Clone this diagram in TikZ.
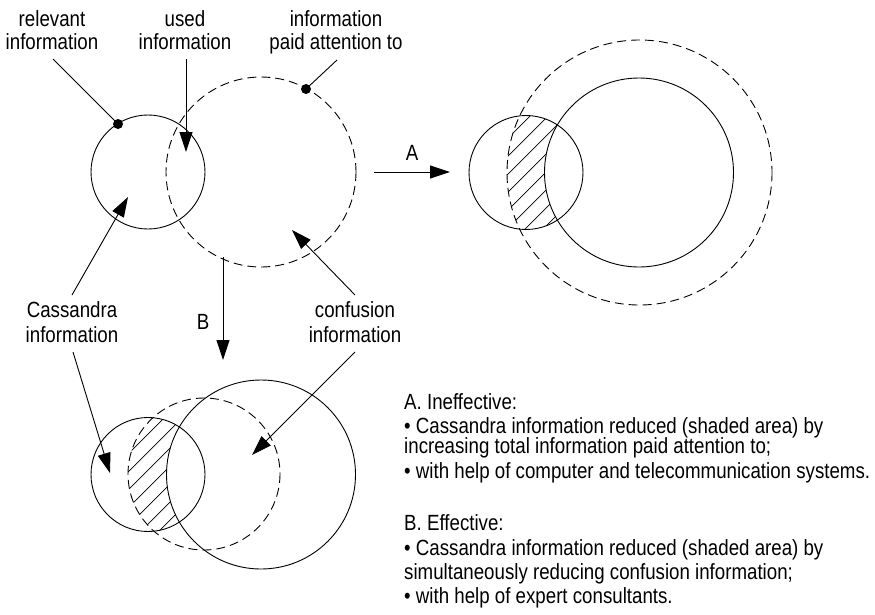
\documentclass[tikz,border=0pt]{standalone}
\usepackage{fontspec}
\setmainfont[FakeStretch=0.85]{Liberation Sans}
\usetikzlibrary{arrows.meta}
\begin{document}
\begin{tikzpicture}[x=1pt,y=-1pt,
  lbl/.style={anchor=base, inner sep=0pt, font=\fontsize{22}{24}\selectfont},
  txt/.style={anchor=base west, inner sep=0pt, font=\fontsize{22}{24}\selectfont},
  ring/.style={line width=0.9pt},
  dashring/.style={line width=0.9pt, dash pattern=on 9pt off 5pt},
  pointer/.style={line width=0.9pt, -{Triangle[length=20pt,width=13pt]}},
  leader/.style={line width=0.9pt},
  dot/.style={circle, fill, inner sep=0pt, minimum size=10pt},
  hatch/.style={line width=0.7pt}
]
\useasboundingbox (0,0) rectangle (875,614);

% ---------- circle centres ----------
\coordinate (S1) at (148,172);   % relevant information (start)
\coordinate (D1) at (261,172);   % information paid attention to (start)
\coordinate (S2) at (526,172.5); % relevant information (case A)
\coordinate (D2) at (639.5,172.5);
\coordinate (M2) at (639,172.5);
\coordinate (S3) at (148,474.5); % relevant information (case B)
\coordinate (D3) at (204,474);
\coordinate (M3) at (261,474.5);

% ---------- starting situation ----------
\draw[ring] (S1) circle (57);
\draw[dashring] (D1) circle (95);

% ---------- case A: shaded area ----------
\begin{scope}[even odd rule]
  \clip (S2) circle (57);
  \clip (D2) circle (132.5);
  \clip (400,0) rectangle (800,400) (M2) circle (94.5);
  \foreach \c in {610,628,...,830}
    \draw[hatch] (\c,0) -- ++(-500,500);
\end{scope}
\draw[ring] (S2) circle (57);
\draw[ring] (M2) circle (94.5);
\draw[dashring] (D2) circle (132.5);

% ---------- case B: shaded area ----------
\begin{scope}[even odd rule]
  \clip (S3) circle (57);
  \clip (D3) circle (76);
  \clip (0,300) rectangle (450,614) (M3) circle (94.5);
  \foreach \c in {528,546,...,780}
    \draw[hatch] (\c,0) -- ++(-700,700);
\end{scope}
\draw[ring] (S3) circle (57);
\draw[ring] (M3) circle (94.5);
\draw[dashring] (D3) circle (76);

% ---------- labels ----------
\node[lbl] (rel1) at (52,26) {relevant};
\node[lbl] (rel2) at (52,49) {information};
\node[lbl] (use1) at (185,26) {used};
\node[lbl] (use2) at (185,49) {information};
\node[lbl] (pay1) at (336,26) {information};
\node[lbl] (pay2) at (336,49) {paid attention to};
\node[lbl] (cas1) at (72,317) {Cassandra};
\node[lbl] (cas2) at (72,342) {information};
\node[lbl] (con1) at (355,317) {confusion};
\node[lbl] (con2) at (355,342) {information};
\node[lbl] (labA) at (412,160) {A};
\node[lbl] (labB) at (203,329) {B};

% ---------- markers on the circles ----------
\node[dot] (relDot) at (118,124) {};
\node[dot] (payDot) at (306,89) {};

% ---------- connector ends ----------
\coordinate (relTail) at (53,59);
\coordinate (payTail) at (337,60);
\coordinate (useTail) at (186,59);
\coordinate (useTip) at (186,152);
\coordinate (casUpTail) at (72,295);
\coordinate (casUpTip) at (128,197);
\coordinate (conUpTail) at (355,295);
\coordinate (conUpTip) at (292,230);
\coordinate (casDnTail) at (73,352);
\coordinate (casDnTip) at (110,473);
\coordinate (conDnTail) at (355,352);
\coordinate (conDnTip) at (252,455);
\coordinate (aTail) at (374,172);
\coordinate (aTip) at (450,172);
\coordinate (bTail) at (223,257);
\coordinate (bTip) at (223,360);

% ---------- connectors ----------
\draw[leader] (relTail) -- (relDot.center);
\draw[leader] (payTail) -- (payDot.center);
\draw[pointer] (useTail) -- (useTip);
\draw[pointer] (casUpTail) -- (casUpTip);
\draw[pointer] (conUpTail) -- (conUpTip);
\draw[pointer] (casDnTail) -- (casDnTip);
\draw[pointer] (conDnTail) -- (conDnTip);
\draw[pointer] (aTail) -- (aTip);
\draw[pointer] (bTail) -- (bTip);

% ---------- explanation ----------
\node[txt] (t1) at (404,409) {A. Ineffective:};
\node[txt] (t2) at (404,433) {• Cassandra information reduced (shaded area) by};
\node[txt] (t3) at (404,453) {increasing total information paid attention to;};
\node[txt] (t4) at (404,478) {• with help of computer and telecommunication systems.};
\node[txt] (t5) at (404,530) {B. Effective:};
\node[txt] (t6) at (404,555) {• Cassandra information reduced (shaded area) by};
\node[txt] (t7) at (404,579) {simultaneously reducing confusion information;};
\node[txt] (t8) at (404,603) {• with help of expert consultants.};
\end{tikzpicture}
\end{document}
